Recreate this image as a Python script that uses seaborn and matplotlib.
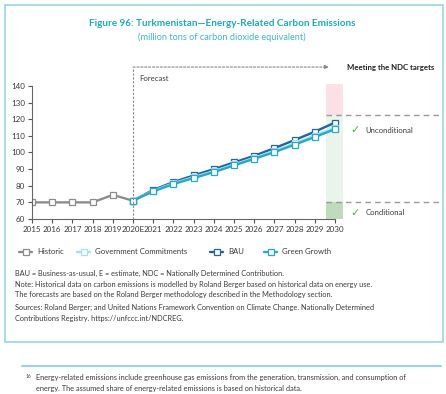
import numpy as np
import pandas as pd
import matplotlib
matplotlib.use("Agg")
import matplotlib.pyplot as plt
import seaborn as sns
from matplotlib.lines import Line2D

# data
years_hist = [2015, 2016, 2017, 2018, 2019, 2020]
historic = [70, 70, 70, 70, 74.5, 71]
years_fc = [2020, 2021, 2022, 2023, 2024, 2025, 2026, 2027, 2028, 2029, 2030]
bau = [71, 77.5, 82.2, 86.2, 90, 94, 98, 102.6, 107.5, 112.5, 118]
gov = [71, 77, 81.5, 85.2, 88.8, 92.8, 96.8, 101, 105.5, 110.2, 115]
green = [71, 76.6, 81, 84.6, 88.2, 92.2, 96.2, 100.2, 104.7, 109.3, 114]
tick_labels = ['2015', '2016', '2017', '2018', '2019', '2020E', '2021', '2022',
               '2023', '2024', '2025', '2026', '2027', '2028', '2029', '2030']
unconditional_target = 122.5
conditional_target = 70

sns.set_style("ticks")
plt.rcParams['font.family'] = ['Lato', 'DejaVu Sans']

c_hist = '#8c8c8c'
c_gov = '#a6dff0'
c_bau = '#1f65a0'
c_green = '#22a9cc'
c_box = '#93d9e2'
c_text = '#3a3a3a'

df_hist = pd.DataFrame({'year': years_hist, 'value': historic})
df_fc = pd.DataFrame({'year': years_fc, 'bau': bau, 'gov': gov, 'green': green})

fig = plt.figure(figsize=(4.46, 3.94), dpi=100)
ax = fig.add_axes([32/446, 1-219/394, (442-32)/446, 133/394])

mk = dict(marker='s', markersize=4.5, markerfacecolor='white', markeredgewidth=0.9, linewidth=1.7)
sns.lineplot(data=df_hist, x='year', y='value', color=c_hist, markeredgecolor=c_hist, ax=ax, **mk)
sns.lineplot(data=df_fc, x='year', y='bau', color=c_bau, markeredgecolor=c_bau, ax=ax, **mk)
sns.lineplot(data=df_fc, x='year', y='gov', color=c_gov, markeredgecolor=c_gov, ax=ax, **mk)
sns.lineplot(data=df_fc, x='year', y='green', color=c_green, markeredgecolor=c_green, ax=ax, **mk)

ax.set_xlim(2015, 2035.3)
ax.set_ylim(60, 140)
ax.set_xticks(range(2015, 2031))
ax.set_xticklabels(tick_labels)
ax.set_yticks(range(60, 141, 10))
ax.tick_params(labelsize=5.8, length=3, width=0.8, color='#555555', labelcolor=c_text, pad=2)
ax.set_xlabel('')
ax.set_ylabel('')
sns.despine(ax=ax)
ax.spines['bottom'].set_bounds(2015, 2030)
ax.spines['left'].set_color('#666666')
ax.spines['bottom'].set_color('#666666')
ax.spines['left'].set_linewidth(0.8)
ax.spines['bottom'].set_linewidth(0.8)

# NDC target bands at 2030
ax.fill_between([2029.55, 2030.4], unconditional_target, 141, color='#fbe1e5', lw=0, clip_on=False, zorder=0)
ax.fill_between([2029.55, 2030.4], conditional_target, unconditional_target, color='#e9f5eb', lw=0, zorder=0)
ax.fill_between([2029.55, 2030.4], 60, conditional_target, color='#bcdcbc', lw=0, zorder=0)
for yv in [unconditional_target, conditional_target]:
    ax.plot([2029.55, 2035.3], [yv, yv], color='#999999', lw=1, ls=(0, (4, 3)), clip_on=False)

ax.text(2030.75, 113.5, '\u2713', color='#3db54a', fontsize=8, va='center', family=['DejaVu Sans'])
ax.text(2031.5, 113.5, 'Unconditional', color=c_text, fontsize=5.6, va='center')
ax.text(2030.75, 63.8, '\u2713', color='#3db54a', fontsize=8, va='center', family=['DejaVu Sans'])
ax.text(2031.5, 63.8, 'Conditional', color=c_text, fontsize=5.6, va='center')

# forecast bracket
ax.plot([2020, 2020], [60, 151.4], color='#888888', lw=0.8, ls=(0, (2, 1.5)), clip_on=False)
ax.annotate('', xy=(2029.7, 151.4), xytext=(2020, 151.4), annotation_clip=False,
            arrowprops=dict(arrowstyle='-|>', color='#888888', lw=0.8, ls=(0, (2, 1.5)),
                            mutation_scale=6, shrinkA=0, shrinkB=0))
ax.text(2020.3, 144.3, 'Forecast', fontsize=5.6, color=c_text, va='center')
ax.text(2030.6, 151.4, 'Meeting the NDC targets', fontsize=5.6, color='#222222',
        fontweight='bold', va='center')

# title
fig.text(222/446, 1-24/394, 'Figure 96: Turkmenistan\u2014Energy-Related Carbon Emissions',
         ha='center', va='center', fontsize=7.2, fontweight='bold', color='#19adbf')
fig.text(222/446, 1-37/394, '(million tons of carbon dioxide equivalent)',
         ha='center', va='center', fontsize=6.6, color='#3bb8c6')

# legend, one entry per slot so the spacing matches
def hnd(c):
    return Line2D([], [], color=c, marker='s', markersize=4.5, markerfacecolor='white',
                  markeredgecolor=c, markeredgewidth=0.9, lw=1.7)
handles = [hnd(c_hist), hnd(c_gov), hnd(c_bau), hnd(c_green)]
labels = ['Historic', 'Government Commitments', 'BAU', 'Green Growth']
slots = [16, 74, 207, 261]
for h, lab, xs in zip(handles, labels, slots):
    fig.legend([h], [lab], loc='center left', bbox_to_anchor=(xs/446, 1-252/394),
               frameon=False, fontsize=5.6, handlelength=1.7, handletextpad=0.6,
               labelcolor=c_text, borderaxespad=0)

# notes
notes = [
    (273, 'BAU = Business-as-usual, E = estimate, NDC = Nationally Determined Contribution.'),
    (284.5, 'Note: Historical data on carbon emissions is modelled by Roland Berger based on historical data on energy use.'),
    (295, 'The forecasts are based on the Roland Berger methodology described in the Methodology section.'),
    (307.5, 'Sources: Roland Berger; and United Nations Framework Convention on Climate Change. Nationally Determined'),
    (318.5, 'Contributions Registry. https://unfccc.int/NDCREG.'),
]
for yp, t in notes:
    fig.text(15/446, 1-yp/394, t, fontsize=5.3, color=c_text, va='center')

# outer box and footnote separator
fig.add_artist(plt.Rectangle((4.5/446, 1-342/394), (443-4.5)/446, (342-5)/394,
                             transform=fig.transFigure, fill=False, edgecolor=c_box, lw=1.2))
fig.add_artist(Line2D([22/446, 441/446], [1-366/394, 1-366/394], transform=fig.transFigure,
                      color=c_box, lw=1.5))
fig.text(26/446, 1-376/394, '16', fontsize=3.5, color=c_text, va='center')
fig.text(36/446, 1-377.5/394, 'Energy-related emissions include greenhouse gas emissions from the generation, transmission, and consumption of',
         fontsize=5.3, color=c_text, va='center')
fig.text(36/446, 1-388/394, 'energy. The assumed share of energy-related emissions is based on historical data.',
         fontsize=5.3, color=c_text, va='center')

fig.savefig('out.png', dpi=100)
